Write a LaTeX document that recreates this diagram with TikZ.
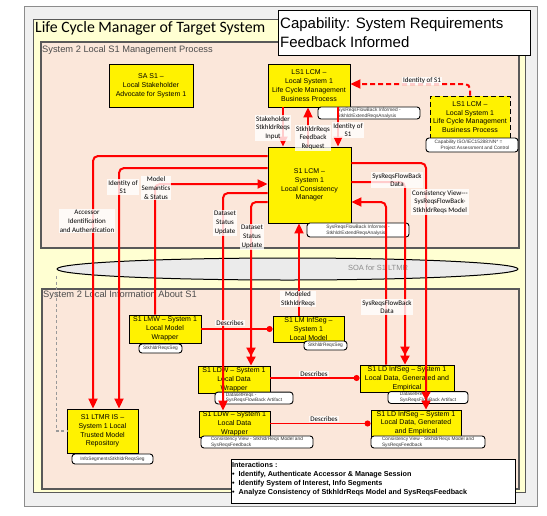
\documentclass[tikz,border=0pt]{standalone}
\usepackage{fontspec}
\setmainfont{Liberation Sans}
\newfontfamily\calib{Carlito}
\usetikzlibrary{arrows.meta,shapes.geometric}
\definecolor{yellowpale}{HTML}{FFFFD2}
\definecolor{peach}{HTML}{FBE7DA}
\definecolor{frame}{HTML}{595959}
\begin{document}
\begin{tikzpicture}[x=1pt,y=-1pt,
  sysbox/.style={draw=black, line width=0.9pt, fill=yellow, align=center, inner sep=0pt,
    font=\fontsize{7}{8.8}\selectfont},
  notebox/.style={draw=black, fill=white, rounded corners=3pt, line width=0.9pt, align=left,
    inner sep=1pt, font=\fontsize{4.8}{5.6}\selectfont, text=black!80},
  flow/.style={draw=red, line width=2pt, rounded corners=5pt},
  descline/.style={draw=red, line width=1.5pt},
  arr/.style={-{Triangle[length=10pt,width=9pt]}},
  darr/.style={-{Triangle[length=9pt,width=9pt]Triangle[length=9pt,width=9pt]}},
  dotend/.style={-{Circle[length=6pt]}},
  lbl/.style={fill=white, fill opacity=0.8, text opacity=1, inner sep=1pt, align=center,
    font=\calib\fontsize{7}{8.8}\selectfont},
  heading/.style={anchor=base west, inner sep=0pt, text=black!70, font=\fontsize{9.3}{11}\selectfont},
]
\useasboundingbox (0,0) rectangle (547,515);

% ---- frames ----
\draw[fill=black!6, draw=black!45, line width=0.8pt] (24,6) rectangle (537,506);
\draw[fill=yellowpale, draw=frame, line width=1pt] (33,19) rectangle (525,492);
\node[anchor=base west, inner sep=0pt, font=\calib\fontsize{15.8}{18}\selectfont] (title) at (35,32)
  {Life Cycle Manager of Target System};

\draw[fill=peach, draw=frame, line width=1.2pt] (41,42) rectangle (519,248);
\node[heading] (hdmgmt) at (42,52) {System 2 Local S1 Management Process};
\draw[fill=peach, draw=frame, line width=1.2pt] (42,289) rectangle (519,489);
\node[heading] (hdinfo) at (43,297) {System 2 Local Information About S1};

% capability banner
\node[draw=black, fill=white, line width=0.9pt, minimum width=252, minimum height=45, inner sep=0pt]
  (cap) at (404,32.5) {};
\node[anchor=west, align=left, inner sep=0pt, font=\fontsize{15}{19}\selectfont] (captext) at (280,32.5)
  {Capability: System Requirements\\Feedback Informed};

% ---- service bus ----
\node[ellipse, draw=black, line width=1pt, fill=black!8, minimum width=461, minimum height=22, inner sep=0pt]
  (soa) at (287.5,269) {};
\node[text=black!45, font=\fontsize{7.5}{9}\selectfont] (soatext) at (378,268) {SOA for S1 LTMR};

% ---- system boxes ----
\node[sysbox, minimum width=84, minimum height=43] (sa) at (151,85.5)
  {SA S1 --\\Local Stakeholder\\Advocate for System 1};
\node[sysbox, minimum width=82, minimum height=43] (ls1) at (309,85.5)
  {LS1 LCM --\\Local System 1\\Life Cycle Management\\Business Process};
\node[sysbox, dashed, dash pattern=on 5pt off 3pt, minimum width=80, minimum height=42] (ls1r) at (470,117)
  {LS1 LCM --\\Local System 1\\Life Cycle Management\\Business Process};
\node[sysbox, minimum width=83, minimum height=76] (lcm) at (309.5,185)
  {S1 LCM --\\System 1\\Local Consistency\\Manager};
\node[sysbox, minimum width=72, minimum height=28] (lmw) at (165,329)
  {S1 LMW -- System 1\\Local Model\\Wrapper};
\node[sysbox, minimum width=71, minimum height=26] (lminf) at (308.5,329)
  {S1 LM InfSeg --\\System 1\\Local Model};
\node[sysbox, minimum width=72, minimum height=27] (ldw1) at (234,379.5)
  {S1 LDW -- System 1\\Local Data\\Wrapper};
\node[sysbox, minimum width=94, minimum height=27] (ldinf1) at (407,378.5)
  {S1 LD InfSeg -- System 1\\Local Data, Generated and\\Empirical};
\node[sysbox, minimum width=71, minimum height=26] (ldw2) at (234.5,424)
  {S1 LDW -- System 1\\Local Data\\Wrapper};
\node[sysbox, minimum width=90, minimum height=26] (ldinf2) at (416,423)
  {S1 LD InfSeg -- System 1\\Local Data, Generated\\and Empirical};
\node[sysbox, minimum width=71, minimum height=44] (ltmr) at (102.5,431)
  {S1 LTMR IS --\\System 1 Local\\Trusted Model\\Repository};

% ---- annotations ----
\node[notebox, minimum width=102, minimum height=12] (nls1) at (369,113)
  {SysReqsFlowBack Informed -\\StkhldrExtendReqsAnalysis};
\node[notebox, minimum width=92, minimum height=14] (nls1r) at (472,145)
  {Capability ISO/IEC15288:NN* =\\\hspace*{6pt}Project Assessment and Control};
\node[notebox, minimum width=102, minimum height=14] (nlcm) at (358,230)
  {SysReqsFlowBack Informed -\\StkhldrExtendReqsAnalysis};
\node[notebox, align=center, minimum width=43, minimum height=9] (nlmw) at (160.5,348.5) {StkhldrReqsSeg};
\node[notebox, align=center, minimum width=43, minimum height=9] (nlminf) at (325.5,345.5) {StkhldrReqsSeg};
\node[notebox, minimum width=78, minimum height=10] (nldw1) at (254,398)
  {DatasetReqs -\\SysReqsFlowBack Artifact};
\node[notebox, minimum width=80, minimum height=11] (nldinf1) at (428,397.5)
  {DatasetReqs -\\SysReqsFlowBack Artifact};
\node[notebox, minimum width=112, minimum height=10] (nldw2) at (257,442)
  {Consistency View - StkhldrReqs Model and\\SysReqsFeedback};
\node[notebox, minimum width=114, minimum height=10] (nldinf2) at (428,442)
  {Consistency View - StkhldrReqs Model and\\SysReqsFeedback};
\node[notebox, align=center, minimum width=81, minimum height=10] (nltmr) at (112.5,459)
  {InfoSegmentsStkhldrReqsSeg};

% ---- bus tap to the repository ----
\draw[black!40, line width=1.5pt, dash pattern=on 3pt off 2.5pt]
  (soa.west |- 0,276) -- (soa.west |- 0,431) -- (ltmr.west |- 0,431);

% ---- flows ----
\draw[flow, arr] (ls1.south -| 283,0) -- (lcm.north -| 283,0);
\draw[flow, arr] (lcm.north -| 308,0) -- (ls1.south -| 308,0);
\draw[flow, arr] (ls1.south -| 338,0) -- (lcm.north -| 338,0);
\draw[flow, arr, dash pattern=on 5pt off 3pt] (ls1r.north -| 470,0) -- (470,84) -- (ls1.east |- 0,84);

\draw[flow, arr] (lcm.west |- 0,156) -- (93,156) -- (ltmr.north -| 93,0);
\draw[flow, arr] (lcm.west |- 0,168) -- (119,168) -- (ltmr.north -| 119,0);
\draw[flow, arr] (lmw.north -| 155,0) -- (155,184) -- (lcm.west |- 0,184);
\draw[flow, arr] (lcm.west |- 0,193) -- (223,193) -- (ldw2.north -| 223,0);
\draw[flow, darr] (lcm.west |- 0,202) -- (251,202) -- (ldw1.north -| 251,0);

\draw[flow, darr] (lcm.east |- 0,163) -- (426,163) -- (ldinf2.north -| 426,0);
\draw[flow, darr] (lcm.east |- 0,182) -- (405,182) -- (ldinf1.north -| 405,0);
\draw[flow, arr] (ldinf1.north -| 386,0) -- (386,202) -- (lcm.east |- 0,202);
\draw[flow, arr] (lminf.north -| 299,0) -- (lcm.south -| 299,0);

\draw[descline, dotend] (lmw.east) -- (lminf.west);
\draw[descline, dotend] (ldw1.east |- 0,378) -- (ldinf1.west |- 0,378);
\draw[descline, dotend] (ldw2.east |- 0,423.5) -- (ldinf2.west |- 0,423.5);

% ---- flow labels ----
\node[lbl] (l1) at (273,128) {Stakeholder\\StkhldrReqs\\Input};
\node[lbl] (l2) at (313,138) {StkhldrReqs\\Feedback\\Request};
\node[lbl] (l3) at (348,130) {Identity of\\S1};
\node[lbl] (l4) at (422,81) {Identity of S1};
\node[lbl] (l5) at (87,221) {Accessor\\Identification\\and Authentication};
\node[lbl] (l6) at (123,187) {Identity of\\S1};
\node[lbl] (l7) at (156,188) {Model\\Semantics\\\& Status};
\node[lbl] (l8) at (225,223) {Dataset\\Status\\Update};
\node[lbl] (l9) at (252,237) {Dataset\\Status\\Update};
\node[lbl] (l10) at (397,180) {SysReqsFlowBack\\Data};
\node[lbl] (l11) at (440,202) {Consistency View---\\SysReqsFlowBack-\\StkhldrReqs Model};
\node[lbl] (l12) at (298,299) {Modeled\\StkhldrReqs};
\node[lbl] (l13) at (387,307) {SysReqsFlowBack\\Data};
\node[lbl] (l14) at (230,323) {Describes};
\node[lbl] (l15) at (314,374) {Describes};
\node[lbl] (l16) at (324,419) {Describes};

% ---- interactions legend ----
\node[draw=black, fill=white, line width=0.9pt, minimum width=284, minimum height=44, inner sep=0pt]
  (inter) at (373,481) {};
\node[anchor=north west, align=left, inner sep=0pt, font=\bfseries\fontsize{7.2}{8.8}\selectfont] (intertext) at (232,462.5)
  {Interactions :\\
   \textbullet\ \ Identify, Authenticate Accessor \& Manage Session\\
   \textbullet\ \ Identify System of Interest, Info Segments\\
   \textbullet\ \ Analyze Consistency of StkhldrReqs Model and SysReqsFeedback};
\end{tikzpicture}
\end{document}
